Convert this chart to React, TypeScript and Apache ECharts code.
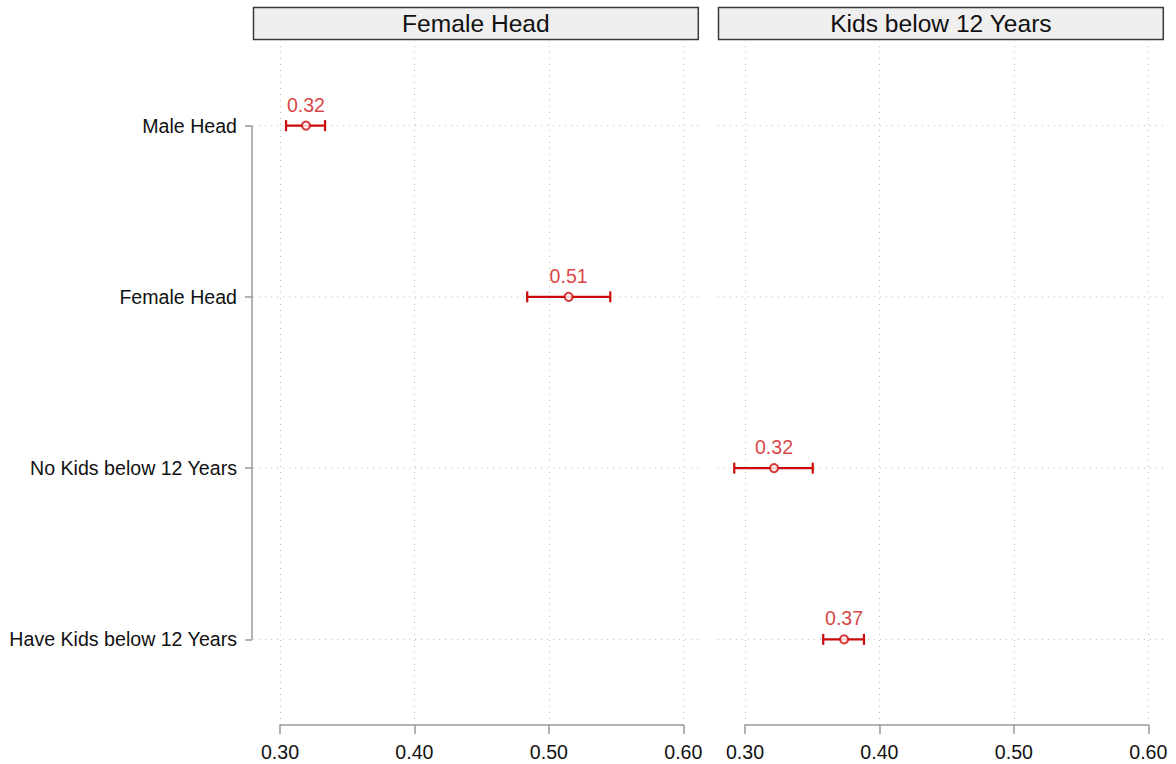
import React, { useEffect, useRef } from 'react';
import * as echarts from 'echarts';

// ---------- data ----------
const panels = ['Female Head', 'Kids below 12 Years'];
const categories = ['Male Head', 'Female Head', 'No Kids below 12 Years', 'Have Kids below 12 Years'];
const categoryPanel = [0, 0, 1, 1];
const estimates = [0.3193, 0.5147, 0.3216, 0.3737];
const lowerCI = [0.3045, 0.4839, 0.292, 0.3582];
const upperCI = [0.3335, 0.5457, 0.3504, 0.3885];
const estimateLabels = ['0.32', '0.51', '0.32', '0.37'];
const xTicks = [0.3, 0.4, 0.5, 0.6];

// ---------- layout / style ----------
const FONT = '"Liberation Sans", Arial, Helvetica, sans-serif';
const GRID_LEFTS = [280, 745];
const GRID_W = 403.3;
const GRID_TOP = 40;
const GRID_H = 685;
const PAD_L = 27;
const PAD_R = 15;
const BAR_COLOR = '#cc0a0a';
const LABEL_COLOR = '#d01010';
const GRID_COLOR = '#bdbdbd';
const AXIS_COLOR = '#9a9a9a';
const TEXT_SIZE = 19.6;

export default function App() {
  const ref = useRef<HTMLDivElement>(null);

  useEffect(() => {
    if (!ref.current) return;
    const chart = echarts.init(ref.current, null, { renderer: 'svg' });

    const grids = GRID_LEFTS.map((left) => ({
      left,
      top: GRID_TOP,
      width: GRID_W,
      height: GRID_H,
      containLabel: false,
    }));

    const xAxes = panels.map((_, i) => ({
      type: 'value',
      gridIndex: i,
      min: xTicks[0],
      max: xTicks[xTicks.length - 1],
      interval: 0.1,
      axisLine: { show: true, lineStyle: { color: AXIS_COLOR, width: 1.5 } },
      axisTick: { show: true, length: 9, lineStyle: { color: AXIS_COLOR, width: 1.5 } },
      axisLabel: {
        formatter: (v: number) => v.toFixed(2),
        fontSize: TEXT_SIZE,
        color: '#111111',
        fontFamily: FONT,
        margin: 17,
      },
      splitLine: { show: true, lineStyle: { color: GRID_COLOR, width: 1, type: [1, 5] } },
    }));

    const yAxes = panels.map((_, i) => ({
      type: 'category',
      gridIndex: i,
      data: categories,
      inverse: true,
      offset: 28,
      show: i === 0,
      axisLine: { show: false },
      axisTick: {
        show: i === 0,
        alignWithLabel: true,
        length: 7,
        lineStyle: { color: AXIS_COLOR, width: 1.5 },
      },
      axisLabel: {
        show: i === 0,
        fontSize: TEXT_SIZE,
        color: '#111111',
        fontFamily: FONT,
        margin: 15,
      },
      splitLine: { show: false },
    }));

    const series: any[] = [];

    panels.forEach((_, i) => {
      // horizontal dotted guide lines at every category
      series.push({
        type: 'custom',
        name: 'guides' + i,
        xAxisIndex: i,
        yAxisIndex: i,
        clip: false,
        silent: true,
        z: 1,
        data: categories.map((_, k) => [xTicks[0], k]),
        encode: { x: 0, y: 1 },
        renderItem: (params: any, api: any) => {
          const cs = params.coordSys;
          const y = api.coord([api.value(0), api.value(1)])[1];
          return {
            type: 'line',
            shape: { x1: cs.x - PAD_L, y1: y, x2: cs.x + cs.width + PAD_R, y2: y },
            style: { stroke: GRID_COLOR, lineWidth: 1, lineDash: [1, 5] },
          };
        },
      });

      // error bars
      const idx = categories.map((_, k) => k).filter((k) => categoryPanel[k] === i);
      series.push({
        type: 'custom',
        name: 'ci' + i,
        xAxisIndex: i,
        yAxisIndex: i,
        clip: false,
        z: 3,
        data: idx.map((k) => [estimates[k], k, lowerCI[k], upperCI[k]]),
        encode: { x: [0, 2, 3], y: 1 },
        renderItem: (params: any, api: any) => {
          const lo = api.coord([api.value(2), api.value(1)]);
          const hi = api.coord([api.value(3), api.value(1)]);
          const y = lo[1];
          const cap = 5.5;
          const st = { stroke: BAR_COLOR, lineWidth: 2.2 };
          return {
            type: 'group',
            children: [
              { type: 'line', shape: { x1: lo[0], y1: y, x2: hi[0], y2: y }, style: st },
              { type: 'line', shape: { x1: lo[0], y1: y - cap, x2: lo[0], y2: y + cap }, style: st },
              { type: 'line', shape: { x1: hi[0], y1: y - cap, x2: hi[0], y2: y + cap }, style: st },
            ],
          };
        },
      });

      // point estimates with labels
      series.push({
        type: 'scatter',
        name: 'est' + i,
        xAxisIndex: i,
        yAxisIndex: i,
        z: 4,
        symbol: 'circle',
        symbolSize: 8,
        itemStyle: { color: '#ffffff', borderColor: BAR_COLOR, borderWidth: 2 },
        label: {
          show: true,
          position: 'top',
          distance: 6,
          fontSize: TEXT_SIZE,
          fontFamily: FONT,
          color: LABEL_COLOR,
          formatter: (p: any) => estimateLabels[p.value[1]],
        },
        data: idx.map((k) => [estimates[k], k]),
      });
    });

    // y-axis line spanning first to last category (left panel)
    series.push({
      type: 'custom',
      name: 'yaxisline',
      xAxisIndex: 0,
      yAxisIndex: 0,
      clip: false,
      silent: true,
      z: 2,
      data: [[xTicks[0], 0, categories.length - 1]],
      encode: { x: 0, y: [1, 2] },
      renderItem: (params: any, api: any) => {
        const cs = params.coordSys;
        const y1 = api.coord([api.value(0), api.value(1)])[1];
        const y2 = api.coord([api.value(0), api.value(2)])[1];
        const x = cs.x - 28;
        return {
          type: 'line',
          shape: { x1: x, y1, x2: x, y2 },
          style: { stroke: AXIS_COLOR, lineWidth: 1.5 },
        };
      },
    });

    const graphic: any[] = [];
    panels.forEach((p, i) => {
      const x = GRID_LEFTS[i] - 26.5;
      const w = GRID_W + 41.5;
      graphic.push({
        type: 'rect',
        shape: { x, y: 7.5, width: w, height: 32 },
        style: { fill: '#efefef', stroke: '#3a3a3a', lineWidth: 1.5 },
        silent: true,
      });
      graphic.push({
        type: 'text',
        x: x + w / 2,
        y: 23.5,
        style: {
          text: p,
          fontSize: 24.6,
          fontFamily: FONT,
          fill: '#111111',
          align: 'center',
          verticalAlign: 'middle',
        },
        silent: true,
      });
    });

    chart.setOption({
      animation: false,
      backgroundColor: '#ffffff',
      textStyle: { fontFamily: FONT },
      grid: grids,
      xAxis: xAxes,
      yAxis: yAxes,
      series,
      graphic,
    });

    return () => chart.dispose();
  }, []);

  return (
    <div
      ref={ref}
      style={{ position: 'absolute', left: 0, top: 0, width: 1176, height: 764 }}
    />
  );
}
